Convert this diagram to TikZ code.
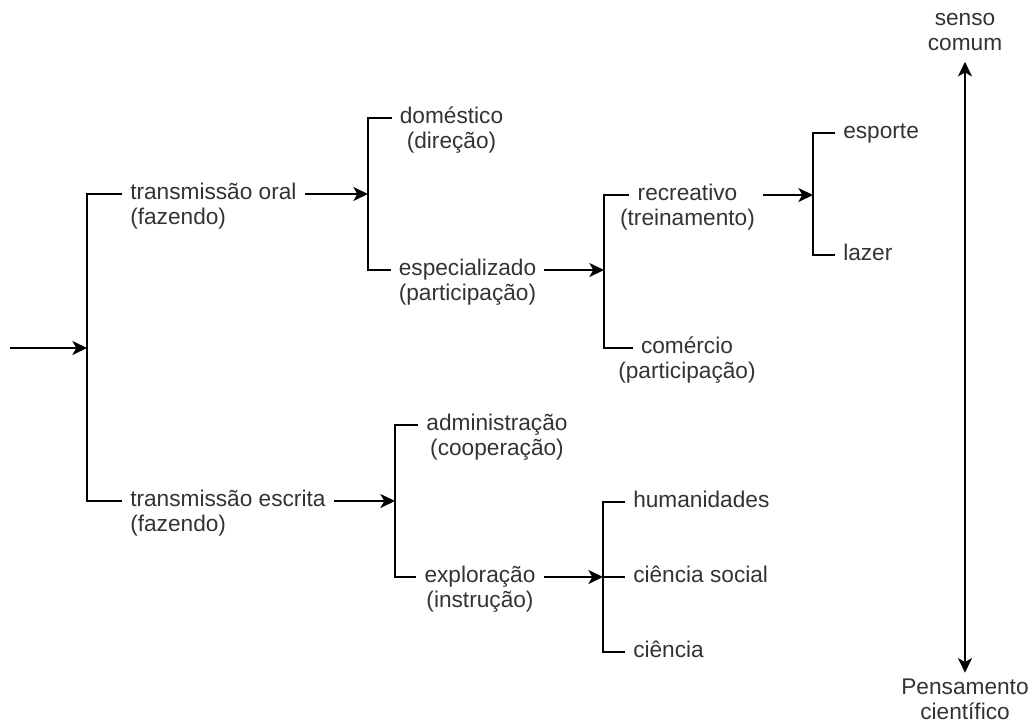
\documentclass[tikz,border=0pt]{standalone}
\usepackage{fontspec}
\setmainfont{Liberation Sans}
\usetikzlibrary{arrows.meta}
\begin{document}
\begin{tikzpicture}[x=0.75pt,y=-0.75pt,
  txt/.style={font=\fontsize{17}{18.75}\selectfont, text=black!80,
    inner xsep=6pt, inner ysep=0pt, text height=12pt, text depth=4pt},
  ends/.style={font=\fontsize{17}{18.75}\selectfont, text=black!80,
    align=center, inner sep=3pt},
  wire/.style={line width=1.4pt, black},
  tip/.tip={Stealth[length=11pt,width=10.5pt,inset=3pt]},
  arr/.style={wire, -tip},
  dbl/.style={wire, tip-tip}
]
\useasboundingbox (0,0) rectangle (1036,725);

% first level
\node[txt, anchor=west,
  label={[txt, name=oral2, anchor=north west, yshift=-2.75pt]south west:(fazendo)}]
  (oral) at (122,194) {transmissão oral};
\node[txt, anchor=west,
  label={[txt, name=escrita2, anchor=north west, yshift=-2.75pt]south west:(fazendo)}]
  (escrita) at (122,501) {transmissão escrita};

% second level
\node[txt, label={[txt, name=dom2, label distance=2.75pt]below:(direção)}]
  (dom) at (451.5,118) {doméstico};
\node[txt, label={[txt, name=espec2, label distance=2.75pt]below:(participação)}]
  (espec) at (467.5,270) {especializado};
\node[txt, label={[txt, name=adm2, label distance=2.75pt]below:(cooperação)}]
  (adm) at (497,425) {administração};
\node[txt, label={[txt, name=expl2, label distance=2.75pt]below:(instrução)}]
  (expl) at (480,577) {exploração};

% third level
\node[txt, label={[txt, name=rec2, label distance=2.75pt]below:(treinamento)}]
  (rec) at (687.5,195) {recreativo};
\node[txt, label={[txt, name=com2, label distance=2.75pt]below:(participação)}]
  (com) at (687,348) {comércio};
\node[txt, anchor=west] (hum) at (625,502) {humanidades};
\node[txt, anchor=west] (soc) at (625,577) {ciência social};
\node[txt, anchor=west] (cie) at (625,652) {ciência};

% fourth level
\node[txt, anchor=west] (spt) at (835,133) {esporte};
\node[txt, anchor=west] (laz) at (835,255) {lazer};

% scale ends
\node[ends] (senso) at (965,32.5) {\strut senso\\\strut comum};
\node[ends] (pens) at (965,702) {\strut Pensamento\\\strut científico};

% bracket spines
\coordinate (src) at (10,348);
\coordinate (b1) at (87,348);
\coordinate (b2) at (368,194);
\coordinate (b3) at (604,270);
\coordinate (b4) at (813,195);
\coordinate (b5) at (395,501);
\coordinate (b6) at (603,577);

% root
\draw[arr] (src) -- (b1);
\draw[wire] (oral.west) -| (b1) |- (escrita.west);

% oral branch
\draw[arr] (oral.east) -- (b2);
\draw[wire] (dom.west) -| (b2) |- (espec.west);
\draw[arr] (espec.east) -- (b3);
\draw[wire] (rec.west) -| (b3) |- (com.west);
\draw[arr] (rec2.east |- rec.east) -- (b4);
\draw[wire] (spt.west) -| (b4) |- (laz.west);

% written branch
\draw[arr] (escrita.east) -- (b5);
\draw[wire] (adm.west) -| (b5) |- (expl.west);
\draw[arr] (expl.east) -- (b6);
\draw[wire] (hum.west) -| (b6) |- (cie.west);
\draw[wire] (b6) -- (soc.west);

% common sense / scientific thinking scale
\draw[dbl] (senso) -- (pens);
\end{tikzpicture}
\end{document}
